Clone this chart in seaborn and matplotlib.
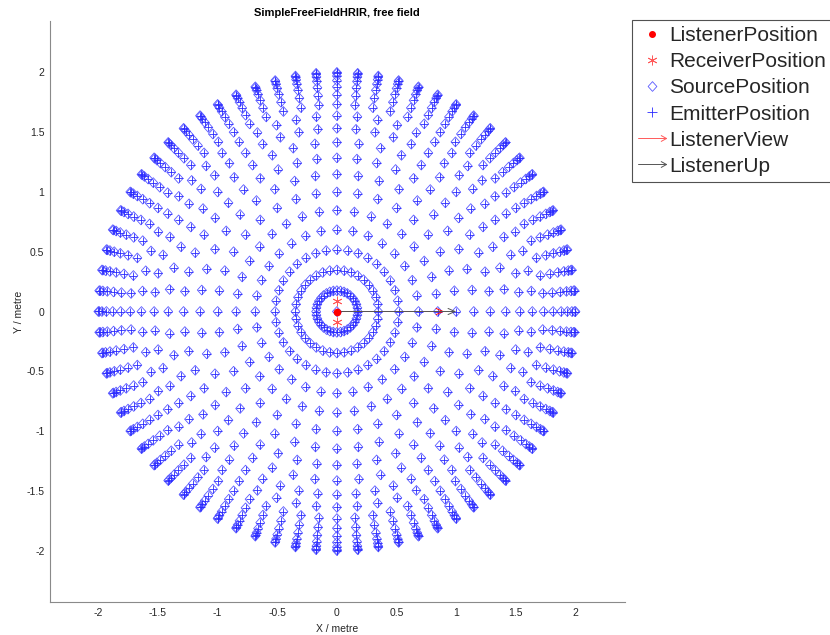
import numpy as np
import pandas as pd
import matplotlib
matplotlib.use("Agg")
import matplotlib.pyplot as plt
from matplotlib.path import Path
from matplotlib.lines import Line2D
from matplotlib.legend_handler import HandlerBase
import seaborn as sns

# Measurement grid: elevation rings (deg) and the azimuth step (deg) used on each ring
ring_elevation = [0, 5, 10, 15, 20, 25, 30, 35, 40, 45, 50, 55, 60, 65, 70, 75, 80, 85, 90]
ring_azimuth_step = [5, 5, 5, 5, 5, 5, 5, 6, 6, 7.5, 7.5, 9, 10, 10, 11.25, 10, 10, 10, 360]
source_distance = 2.0

# Listener geometry (metres)
listener_position = [0.0, 0.0]
receiver_y = [0.09, -0.09]
listener_view = [0.9, 0.0]
listener_up = [1.0, 0.0]

axis_ticks = [-2, -1.5, -1, -0.5, 0, 0.5, 1, 1.5, 2]
tick_labels = ["-2", "-1.5", "-1", "-0.5", "0", "0.5", "1", "1.5", "2"]
legend_labels = ["ListenerPosition", "ReceiverPosition", "SourcePosition",
                 "EmitterPosition", "ListenerView", "ListenerUp"]
title = "SimpleFreeFieldHRIR, free field"

# Spherical source positions -> Cartesian XY projection
rows = []
for el, step in zip(ring_elevation, ring_azimuth_step):
    for az in np.arange(0.0, 360.0, step):
        r = source_distance * np.cos(np.radians(el))
        rows.append((az, el, r * np.cos(np.radians(az)), r * np.sin(np.radians(az))))
src = pd.DataFrame(rows, columns=["azimuth", "elevation", "x", "y"])

sns.set_theme(style="white")
plt.rcParams["font.family"] = ["Liberation Sans", "DejaVu Sans"]

fig = plt.figure(figsize=(8.3, 6.35), dpi=100)
W, H = 830, 635
ax = fig.add_axes([50 / W, 1 - 602 / H, 575 / W, 581 / H])

diamond = Path([(0, 1), (0.9, 0), (0, -1), (-0.9, 0), (0, 1)],
               [Path.MOVETO, Path.LINETO, Path.LINETO, Path.LINETO, Path.CLOSEPOLY])
chevron = Path([(-1, 0.55), (0, 0), (-1, -0.55)], [Path.MOVETO, Path.LINETO, Path.LINETO])

diamond_blue = "#5a5aff"
plus_blue = "#2a2aff"
red = "#ff0000"
light_red = "#ff5a5a"

# Source positions (open diamonds)
sns.scatterplot(data=src, x="x", y="y", marker=diamond, s=50, color=diamond_blue,
                linewidth=0.6, ax=ax, legend=False, zorder=3)
coll = ax.collections[-1]
coll.set_facecolor("none")
coll.set_edgecolor(diamond_blue)

# Emitter positions (plus signs at the same places)
sns.scatterplot(data=src, x="x", y="y", marker="+", s=32, color=plus_blue,
                linewidth=0.6, ax=ax, legend=False, zorder=4)

# Listener and receivers
ax.plot([listener_position[0]], [listener_position[1]], "o", color=red, ms=4.5, zorder=6)
ax.plot([listener_position[0]] * len(receiver_y), receiver_y, ls="none",
        marker=(6, 2, 0), ms=7, mew=0.6, color=light_red, zorder=6)

# View / up vectors
ax.annotate("", xy=(listener_position[0] + listener_view[0], listener_position[1] + listener_view[1]),
            xytext=listener_position,
            arrowprops=dict(arrowstyle="->,head_length=0.5,head_width=0.22", color=red,
                            lw=0.7, shrinkA=0, shrinkB=0, mutation_scale=10), zorder=5)
ax.annotate("", xy=(listener_position[0] + listener_up[0], listener_position[1] + listener_up[1]),
            xytext=listener_position,
            arrowprops=dict(arrowstyle="->,head_length=0.5,head_width=0.22", color="#555555",
                            lw=0.7, shrinkA=0, shrinkB=0, mutation_scale=10), zorder=5)

ax.set_xlim(-2.405, 2.415)
ax.set_ylim(-2.43, 2.43)
ax.set_xticks(axis_ticks)
ax.set_xticklabels(tick_labels)
ax.set_yticks(axis_ticks)
ax.set_yticklabels(tick_labels)
for side in ("top", "right"):
    ax.spines[side].set_visible(False)
for side in ("left", "bottom"):
    ax.spines[side].set_color("#8a8a8a")
    ax.spines[side].set_linewidth(0.8)
ax.tick_params(direction="in", length=3.5, width=0.7, color="#262626",
               labelsize=7.5, labelcolor="#262626", pad=4)
ax.set_xlabel("X / metre", fontsize=7.5, color="#262626", labelpad=5)
ax.set_ylabel("Y / metre", fontsize=7.5, color="#262626", labelpad=1.5)
ax.grid(False)

fig.text(337 / W, 1 - 13 / H, title, ha="center", va="center",
         fontsize=8, fontweight="bold", color="#000000")


class ArrowHandler(HandlerBase):
    def create_artists(self, legend, orig_handle, xdescent, ydescent,
                       width, height, fontsize, trans):
        y = height / 2 - ydescent
        x0, x1 = -xdescent, width - xdescent
        c = orig_handle.get_color()
        line = Line2D([x0, x1], [y, y], color=c, lw=0.7, transform=trans)
        head = Line2D([x1], [y], marker=chevron, ms=8, mfc="none", mec=c,
                      mew=0.7, transform=trans)
        return [line, head]


handles = [
    Line2D([], [], ls="none", marker="o", color=red, ms=4),
    Line2D([], [], ls="none", marker=(6, 2, 0), color=light_red, ms=7, mew=0.6),
    Line2D([], [], ls="none", marker=diamond, mfc="none", mec=diamond_blue, ms=7, mew=0.6),
    Line2D([], [], ls="none", marker="+", color=plus_blue, ms=7, mew=0.6),
    Line2D([], [], color=light_red),
    Line2D([], [], color="#555555"),
]
arrow_h = ArrowHandler()
leg = fig.legend(handles, legend_labels, loc="upper left",
                 bbox_to_anchor=(632 / W, 1 - 20 / H), bbox_transform=fig.transFigure,
                 borderaxespad=0, frameon=True, fancybox=False, fontsize=15,
                 handlelength=1.35, handletextpad=0.15, borderpad=0.3, labelspacing=0.34,
                 handler_map={handles[4]: arrow_h, handles[5]: arrow_h})
leg.get_frame().set_edgecolor("#262626")
leg.get_frame().set_linewidth(0.8)

fig.savefig("out.png", dpi=100, facecolor="white")
